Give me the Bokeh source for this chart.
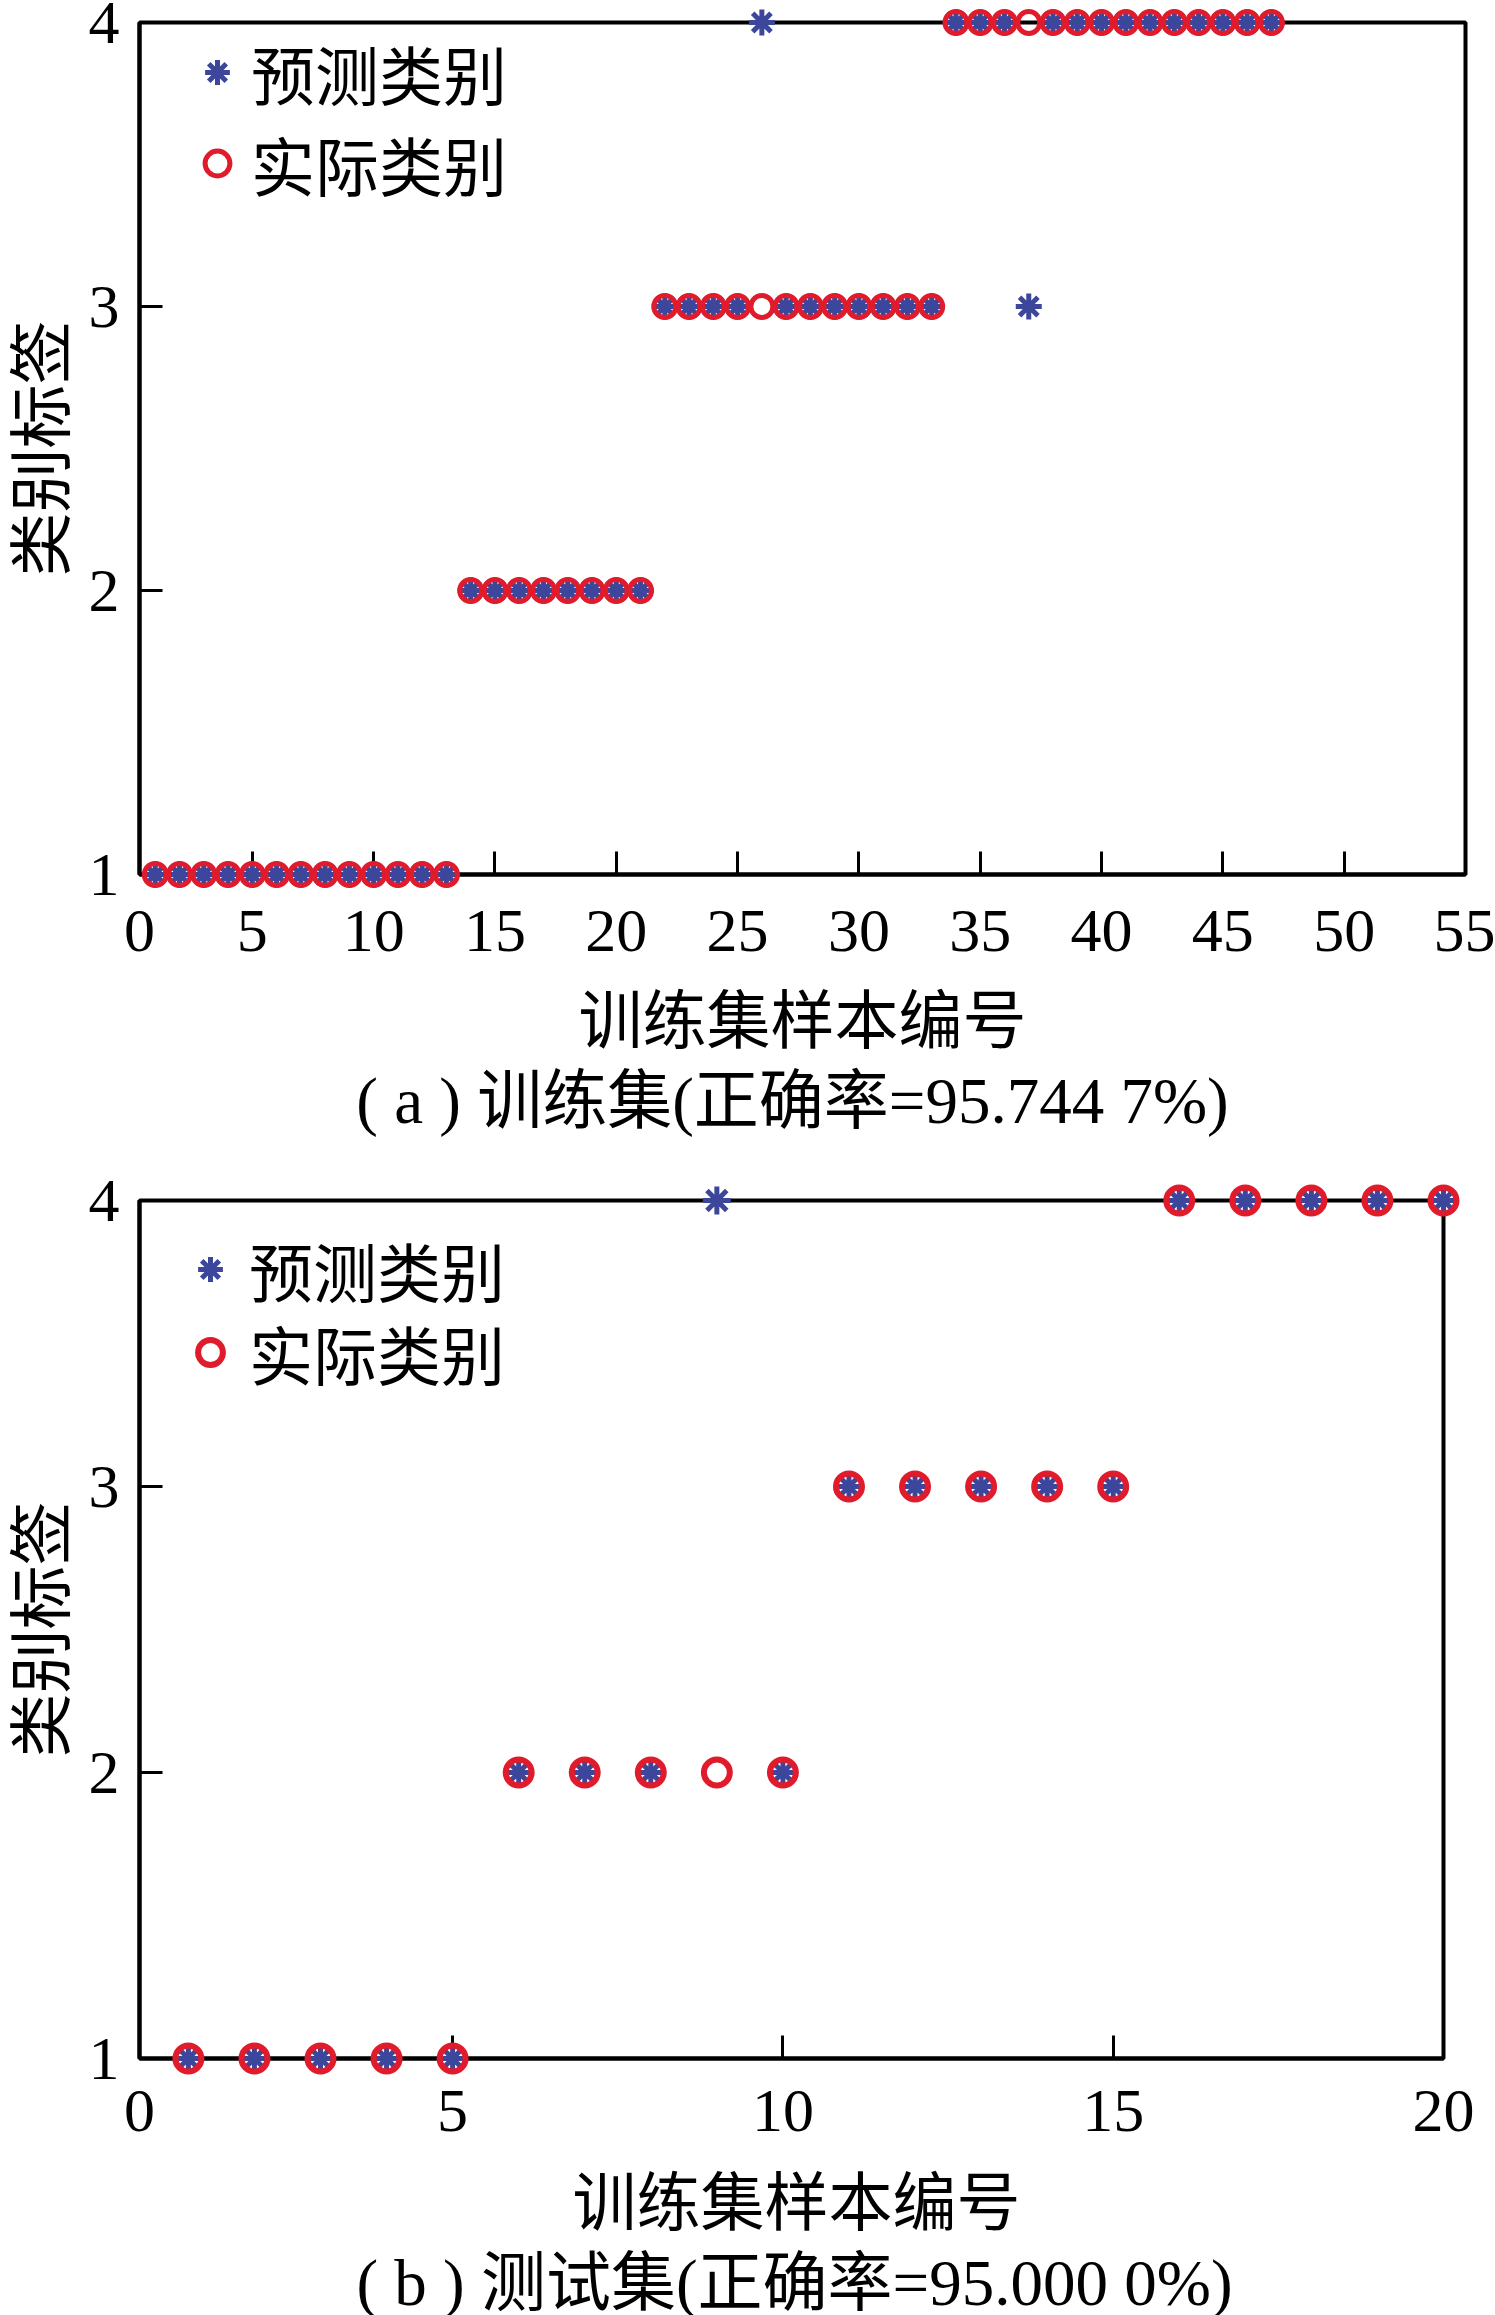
import math
from bokeh.plotting import figure
from bokeh.models import Range1d, FixedTicker, Legend, LegendItem
from bokeh.core.properties import value
from bokeh.layouts import column
from bokeh.embed import file_html
from bokeh.resources import INLINE

# ---------------- data ----------------
train_no = list(range(1, 48))
train_actual = [1, 1, 1, 1, 1, 1, 1, 1, 1, 1, 1, 1, 1,
                2, 2, 2, 2, 2, 2, 2, 2,
                3, 3, 3, 3, 3, 3, 3, 3, 3, 3, 3, 3,
                4, 4, 4, 4, 4, 4, 4, 4, 4, 4, 4, 4, 4, 4]
train_pred = [1, 1, 1, 1, 1, 1, 1, 1, 1, 1, 1, 1, 1,
              2, 2, 2, 2, 2, 2, 2, 2,
              3, 3, 3, 3, 4, 3, 3, 3, 3, 3, 3, 3,
              4, 4, 4, 3, 4, 4, 4, 4, 4, 4, 4, 4, 4, 4]

test_no = list(range(1, 21))
test_actual = [1, 1, 1, 1, 1, 2, 2, 2, 2, 2, 3, 3, 3, 3, 3, 4, 4, 4, 4, 4]
test_pred = [1, 1, 1, 1, 1, 2, 2, 2, 4, 2, 3, 3, 3, 3, 3, 4, 4, 4, 4, 4]

train_xticks = [0, 5, 10, 15, 20, 25, 30, 35, 40, 45, 50, 55]
test_xticks = [0, 5, 10, 15, 20]
yticks = [1, 2, 3, 4]

pred_label = "预测类别"
actual_label = "实际类别"
xlabel_text = "训练集样本编号"
ylabel_text = "类别标签"
caption_a = "( a ) 训练集(正确率=95.744 7%)"
caption_b = "( b ) 测试集(正确率=95.000 0%)"

BLUE = "#3C479B"
RED = "#E01B2B"
CJK = "Noto Sans CJK SC"
SERIF = "Liberation Serif"
MIXED = "Liberation Serif, Noto Sans CJK SC"


def make_panel(no, actual, pred, xticks, x_start, caption, fw, fh, bl, bt, br, bb,
               star_size, circ_size, circ_lw, tick_standoff,
               leg_vx, leg_vy1, leg_vy2, leg_standoff,
               ylab_dx, xlab_dy, xlab_dx, cap_dy, cap_dx):
    xmax = xticks[-1]
    p = figure(width=bl + fw + br, height=bt + fh + bb,
               frame_width=fw, frame_height=fh,
               min_border_left=bl, min_border_top=bt,
               min_border_right=br, min_border_bottom=bb,
               x_range=Range1d(x_start, xmax), y_range=Range1d(1, 4),
               output_backend="svg", toolbar_location=None, tools="")
    p.background_fill_color = "white"
    p.border_fill_color = "white"
    p.outline_line_color = "black"
    p.outline_line_width = 4
    p.xgrid.visible = False
    p.ygrid.visible = False

    ticks = [x_start] + xticks[1:]
    p.xaxis.ticker = FixedTicker(ticks=ticks)
    p.xaxis.major_label_overrides = {x_start: str(xticks[0])}
    p.yaxis.ticker = FixedTicker(ticks=yticks)
    for ax in (p.xaxis[0], p.yaxis[0]):
        ax.axis_line_width = 4
        ax.axis_line_color = "black"
        ax.major_tick_in = 23
        ax.major_tick_out = 0
        ax.major_tick_line_width = 3
        ax.major_tick_line_color = "black"
        ax.minor_tick_line_color = None
        ax.major_label_text_font = SERIF
        ax.major_label_text_font_size = "62px"
        ax.major_label_text_color = "black"
    p.xaxis.major_label_standoff = tick_standoff
    p.yaxis.major_label_standoff = 20

    r_pred = p.scatter(no, pred, marker="asterisk", size=star_size,
                       line_color=BLUE, line_width=5)
    r_act = p.scatter(no, actual, marker="circle", size=circ_size,
                      line_color=RED, line_width=circ_lw, fill_color=None)
    r_pred.level = "overlay"
    r_act.level = "overlay"

    for item_label, rend, vy in ((pred_label, r_pred, leg_vy1),
                                 (actual_label, r_act, leg_vy2)):
        legend = Legend(items=[LegendItem(label=item_label, renderers=[rend])],
                        location=(leg_vx, vy), padding=0, spacing=0,
                        glyph_width=62, glyph_height=100, label_height=100,
                        label_standoff=leg_standoff,
                        label_text_font=CJK, label_text_font_size="64px",
                        label_text_color="black",
                        background_fill_alpha=0, border_line_color=None)
        p.add_layout(legend)

    xmid = (x_start + xmax) / 2
    ymid = (yticks[0] + yticks[-1]) / 2
    t1 = p.text(x=[xmid], y=[yticks[0]], text=[xlabel_text],
                x_offset=xlab_dx, y_offset=xlab_dy,
                text_align="center", text_baseline="middle",
                text_font=value(CJK), text_font_size="64px", text_color="black")
    t2 = p.text(x=[xmid], y=[yticks[0]], text=[caption],
                x_offset=cap_dx, y_offset=cap_dy,
                text_align="center", text_baseline="middle",
                text_font=value(MIXED), text_font_size="65px", text_color="black")
    t3 = p.text(x=[x_start], y=[ymid], text=[ylabel_text],
                x_offset=-ylab_dx, y_offset=0, angle=math.pi / 2,
                text_align="center", text_baseline="middle",
                text_font=value(CJK), text_font_size="64px", text_color="black")
    for t in (t1, t2, t3):
        t.level = "overlay"
    return p


pa = make_panel(train_no, train_actual, train_pred, train_xticks, 0.35, caption_a,
                fw=1326, fh=852, bl=139, bt=22, br=30, bb=286,
                star_size=26, circ_size=22, circ_lw=5, tick_standoff=36,
                leg_vx=47, leg_vy1=752, leg_vy2=661, leg_standoff=3,
                ylab_dx=104, xlab_dy=140, xlab_dx=0, cap_dy=226, cap_dx=-10)
pb = make_panel(test_no, test_actual, test_pred, test_xticks, 0.26, caption_b,
                fw=1304, fh=858, bl=139, bt=40, br=52, bb=257,
                star_size=28, circ_size=26, circ_lw=6, tick_standoff=32,
                leg_vx=40, leg_vy1=739, leg_vy2=656, leg_standoff=8,
                ylab_dx=104, xlab_dy=138, xlab_dx=5, cap_dy=224, cap_dx=3)

layout = column(pa, pb, spacing=0)
open("out.html", "w").write(file_html(layout, INLINE))
